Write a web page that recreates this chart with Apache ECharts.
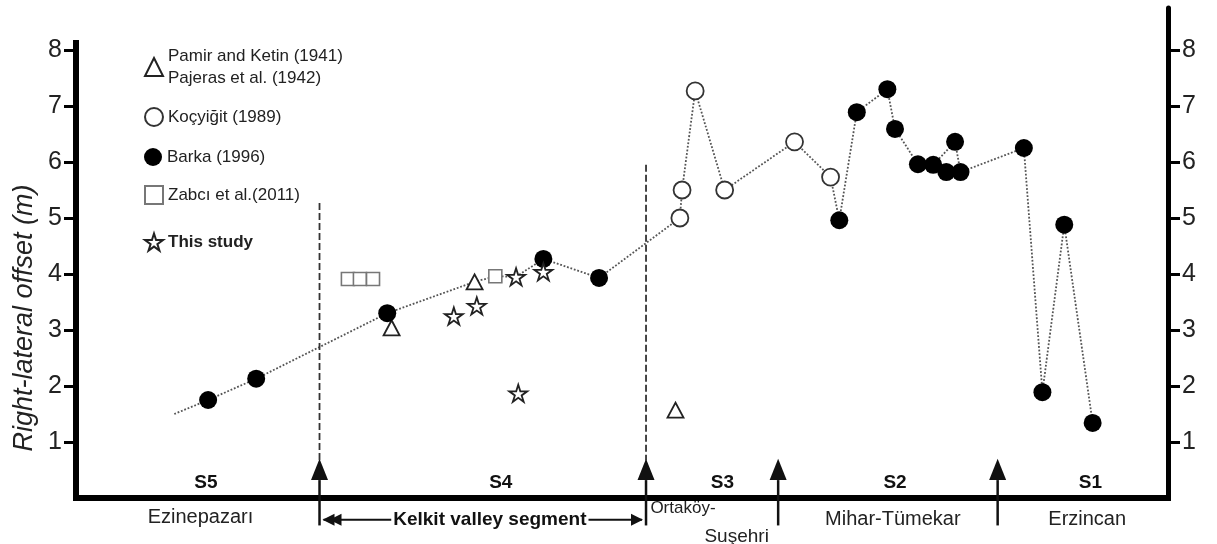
<!DOCTYPE html>
<html><head><meta charset="utf-8">
<script src="https://cdn.jsdelivr.net/npm/echarts@6/dist/echarts.min.js"></script>
<style>html,body{margin:0;padding:0;background:#fff}#c{width:1217px;height:544px}</style>
</head><body><div id="c"></div>
<script>
// ---- data (x = distance along fault, arbitrary 0-100 units; y = offset in m)
const yTicks = [1, 2, 3, 4, 5, 6, 7, 8];
const pamirX = [28.9, 36.5, 54.9];
const pamirY = [3.04, 3.86, 1.57];
const kocX = [55.3, 55.5, 56.7, 59.4, 65.8, 69.1];
const kocY = [5.0, 5.5, 7.27, 5.5, 6.36, 5.73];
const barkaX = [12.1, 16.5, 28.5, 42.8, 47.9, 69.9, 71.5, 74.3, 75.0, 77.1, 78.5, 79.7, 80.5, 81.0, 86.8, 88.5, 90.5, 93.1];
const barkaY = [1.75, 2.13, 3.30, 4.27, 3.93, 4.96, 6.89, 7.30, 6.59, 5.96, 5.95, 5.82, 6.36, 5.82, 6.25, 1.89, 4.88, 1.34];
const zabciX = [24.9, 26.0, 27.2, 38.4];
const zabciY = [3.91, 3.91, 3.91, 3.96];
const studyX = [34.6, 36.7, 40.3, 40.5, 42.8];
const studyY = [3.25, 3.43, 3.95, 1.87, 4.04];
const trendX = [9.0, 12.1, 16.5, 28.5, 36.5, 38.4, 40.3, 42.8, 47.9, 55.3, 55.5, 56.7, 59.4, 65.8, 69.1, 69.9, 71.5, 74.3, 75.0, 77.1, 78.5, 80.5, 81.0, 86.8, 88.5, 90.5, 93.1];
const trendY = [1.5, 1.75, 2.13, 3.30, 3.86, 3.96, 3.95, 4.27, 3.93, 5.0, 5.5, 7.27, 5.5, 6.36, 5.73, 4.96, 6.89, 7.30, 6.59, 5.96, 5.95, 6.36, 5.82, 6.25, 1.89, 4.88, 1.34];
const boundaryX = [22.3, 52.2, 64.3, 84.4];
const boundaryDashTop = [5.27, 5.95, null, null];
const segmentNames = ['S5', 'S4', 'S3', 'S2', 'S1'];
const segmentX = [11.9, 38.9, 59.2, 75.0, 92.9];
const placeNames = ['Ezinepazarı', 'Ortaköy-', 'Suşehri', 'Mihar-Tümekar', 'Erzincan'];
const placeX = [11.4, 52.6, 60.5, 74.8, 92.6];
const placeY = [-0.34, -0.18, -0.70, -0.39, -0.39];
const kelkitRange = [22.3, 52.2];
const kelkitLabel = 'Kelkit valley segment';

const names = {
  pamir: 'Pamir and Ketin (1941)\nPajeras et al. (1942)',
  koc: 'Koçyiğit (1989)',
  barka: 'Barka (1996)',
  zabci: 'Zabcı et al.(2011)',
  study: 'This study'
};

const FONT = 'Liberation Sans, Arial, Helvetica, sans-serif';
const STAR = 'path://M50,0 L61,35 L98,35 L68,57 L79,91 L50,70 L21,91 L32,57 L2,35 L39,35 Z';
const pairs = (xs, ys) => xs.map((x, i) => [x, ys[i]]);

const arrowTipY = 0.70, arrowBaseY = 0.32, arrowTailY = -0.49;
const segLabelY = 0.27, kelkitY = -0.39, kelkitTextX = 37.9;
const placeAlign = ['center', 'left', 'center', 'center', 'center'];
const placeSize = [20, 17, 19, 20, 20];

const chart = echarts.init(document.getElementById('c'), null, {renderer: 'canvas'});

function legendFor(name, top, bold) {
  return {
    data: [name], left: 139, top: top, orient: 'vertical',
    itemWidth: 18, itemHeight: 18, itemGap: 0,
    selectedMode: false,
    textStyle: {fontFamily: FONT, fontSize: 17, color: '#222', lineHeight: 22, fontWeight: bold ? 'bold' : 'normal'}
  };
}

const option = {
  animation: false,
  backgroundColor: '#fff',
  grid: [
    {left: 76, right: 49, top: 43, bottom: 46},
    {left: 76, right: 49, top: 8, bottom: 46}
  ],
  xAxis: [
    {gridIndex: 0, type: 'value', min: 0, max: 100,
      axisLine: {show: true, onZero: false, lineStyle: {color: '#000', width: 6, cap: 'square'}},
      axisTick: {show: false}, axisLabel: {show: false}, splitLine: {show: false}},
    {gridIndex: 1, type: 'value', min: 0, max: 100, show: false}
  ],
  yAxis: [
    {gridIndex: 0, type: 'value', min: 0, max: 8.125, interval: 1, position: 'left',
      axisLine: {show: true, onZero: false, lineStyle: {color: '#000', width: 6, cap: 'square'}},
      axisTick: {show: true, inside: false, length: 12, lineStyle: {color: '#000', width: 3}, customValues: yTicks},
      axisLabel: {show: true, fontFamily: FONT, fontSize: 25, color: '#222', margin: 14, customValues: yTicks},
      splitLine: {show: false}},
    {gridIndex: 1, type: 'value', min: 0, max: 8.75, interval: 1, position: 'right',
      axisLine: {show: true, onZero: false, lineStyle: {color: '#000', width: 5}},
      axisTick: {show: true, inside: false, length: 12, lineStyle: {color: '#000', width: 3}, customValues: yTicks},
      axisLabel: {show: true, fontFamily: FONT, fontSize: 25, color: '#222', margin: 14, customValues: yTicks},
      splitLine: {show: false}}
  ],
  legend: [
    legendFor(names.pamir, 40, false),
    legendFor(names.koc, 101, false),
    legendFor(names.barka, 141, false),
    legendFor(names.zabci, 179, false),
    legendFor(names.study, 226, true)
  ],
  graphic: [
    {type: 'text', x: 24, y: 318, rotation: Math.PI / 2,
      style: {text: 'Right-lateral offset (m)', fontFamily: FONT, fontSize: 27, fontStyle: 'italic', fill: '#222',
        align: 'center', verticalAlign: 'middle'}}
  ],
  series: [
    {type: 'line', name: 'trend', data: pairs(trendX, trendY), symbol: 'none', z: 1,
      lineStyle: {color: '#555', width: 1.8, type: 'dotted'}, silent: true},
    {type: 'custom', name: 'boundaries', z: 2, silent: true,
      data: boundaryX.map((x, i) => [x, boundaryDashTop[i] == null ? 0 : boundaryDashTop[i]]),
      renderItem: function (params, api) {
        const i = params.dataIndex;
        const x = boundaryX[i];
        const tip = api.coord([x, arrowTipY]);
        const base = api.coord([x, arrowBaseY]);
        const tail = api.coord([x, arrowTailY]);
        const children = [
          {type: 'line', shape: {x1: base[0], y1: base[1], x2: tail[0], y2: tail[1]}, style: {stroke: '#111', lineWidth: 2.5}},
          {type: 'polygon', shape: {points: [[tip[0], tip[1]], [tip[0] - 8.5, base[1]], [tip[0] + 8.5, base[1]]]}, style: {fill: '#111'}}
        ];
        if (boundaryDashTop[i] != null) {
          const top = api.coord([x, boundaryDashTop[i]]);
          children.push({type: 'line', shape: {x1: top[0], y1: top[1], x2: tip[0], y2: tip[1] + 2},
            style: {stroke: '#333', lineWidth: 1.8, lineDash: [7, 3]}});
        }
        return {type: 'group', children: children};
      }},
    {type: 'custom', name: 'kelkit', z: 2, silent: true,
      data: [[kelkitRange[0], kelkitY]],
      renderItem: function (params, api) {
        const a = api.coord([kelkitRange[0], kelkitY]);
        const b = api.coord([kelkitRange[1], kelkitY]);
        const m = api.coord([kelkitTextX, kelkitY]);
        return {type: 'group', children: [
          {type: 'line', shape: {x1: a[0] + 4, y1: a[1], x2: b[0] - 4, y2: b[1]}, style: {stroke: '#111', lineWidth: 2}},
          {type: 'polygon', shape: {points: [[a[0] + 3, a[1]], [a[0] + 15, a[1] - 6], [a[0] + 15, a[1] + 6]]}, style: {fill: '#111'}},
          {type: 'polygon', shape: {points: [[a[0] + 10, a[1]], [a[0] + 22, a[1] - 6], [a[0] + 22, a[1] + 6]]}, style: {fill: '#111'}},
          {type: 'polygon', shape: {points: [[b[0] - 3, b[1]], [b[0] - 15, b[1] - 6], [b[0] - 15, b[1] + 6]]}, style: {fill: '#111'}},
          {type: 'text', x: m[0], y: m[1], style: {text: kelkitLabel, fontFamily: FONT, fontSize: 19, fontWeight: 'bold',
            fill: '#111', align: 'center', verticalAlign: 'middle', backgroundColor: '#fff', padding: [0, 2]}}
        ]};
      }},
    {type: 'custom', name: 'segments', z: 2, silent: true,
      data: segmentX.map(x => [x, segLabelY]),
      renderItem: function (params, api) {
        const p = api.coord([segmentX[params.dataIndex], segLabelY]);
        return {type: 'text', x: p[0], y: p[1], style: {text: segmentNames[params.dataIndex], fontFamily: FONT,
          fontSize: 19, fontWeight: 'bold', fill: '#111', align: 'center', verticalAlign: 'middle'}};
      }},
    {type: 'custom', name: 'places', z: 2, silent: true,
      data: placeX.map((x, i) => [x, placeY[i]]),
      renderItem: function (params, api) {
        const i = params.dataIndex;
        const p = api.coord([placeX[i], placeY[i]]);
        return {type: 'text', x: p[0], y: p[1], style: {text: placeNames[i], fontFamily: FONT,
          fontSize: placeSize[i], fill: '#222', align: placeAlign[i], verticalAlign: 'middle'}};
      }},
    {type: 'scatter', name: names.pamir, data: pairs(pamirX, pamirY), symbol: 'triangle', symbolSize: [16, 15], z: 3,
      itemStyle: {color: '#fff', borderColor: '#222', borderWidth: 1.8, opacity: 1}},
    {type: 'scatter', name: names.koc, data: pairs(kocX, kocY), symbol: 'circle', symbolSize: 17, z: 3,
      itemStyle: {color: '#fff', borderColor: '#333', borderWidth: 1.8, opacity: 1}},
    {type: 'scatter', name: names.barka, data: pairs(barkaX, barkaY), symbol: 'circle', symbolSize: 18, z: 4,
      itemStyle: {color: '#000', borderColor: '#000', borderWidth: 0, opacity: 1}},
    {type: 'scatter', name: names.zabci, data: pairs(zabciX, zabciY), symbol: 'rect', symbolSize: 13, z: 3,
      itemStyle: {color: '#fff', borderColor: '#777', borderWidth: 1.6, opacity: 1}},
    {type: 'scatter', name: names.study, data: pairs(studyX, studyY), symbol: STAR, symbolSize: 18, symbolKeepAspect: true, z: 5,
      itemStyle: {color: '#fff', borderColor: '#222', borderWidth: 1.8, opacity: 1}}
  ]
};
chart.setOption(option);
</script>
</body></html>
